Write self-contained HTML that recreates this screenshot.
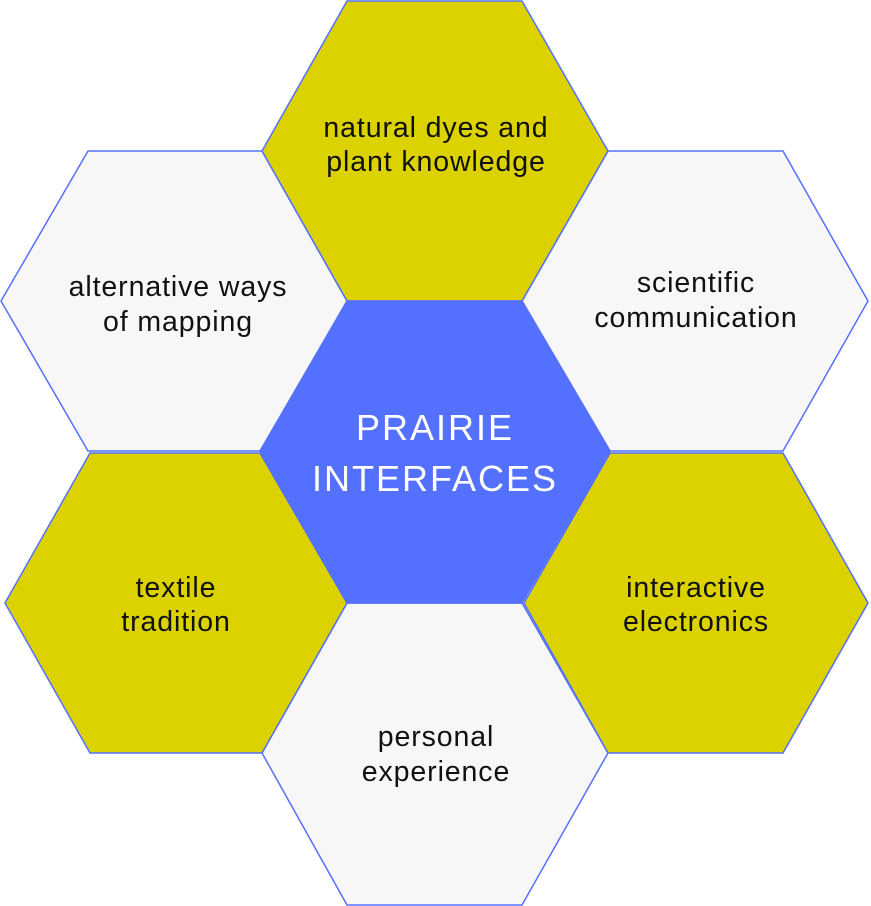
<!DOCTYPE html>
<html><head><style>
html,body{margin:0;padding:0;background:#fff;width:871px;height:906px;overflow:hidden}
svg{display:block}
text{font-family:"Liberation Sans",sans-serif;font-size:28.5px;letter-spacing:0.9px;fill:#111;text-anchor:middle}
</style></head><body>
<svg width="871" height="906" viewBox="0 0 871 906">
<g stroke="#5470ff" stroke-width="1.5">
<polygon fill="#f7f7f7" points="1,301 88,151 262,151 347,301 262,451 88,451"/>
<polygon fill="#f7f7f7" points="522,301 608,151 783,151 868,301 783,451 610,451"/>
<polygon fill="#f7f7f7" points="262,753 347,603 522,603 608,753 522,905 347,905"/>
<polygon fill="#dcd200" points="5,603 90,453 260,453 347,603 262,753 90,753"/>
<polygon fill="#dcd200" points="524,603 610,453 783,453 868,603 783,753 608,753"/>
<polygon fill="#dcd200" points="262,151 347,1 522,1 608,151 522,301 347,301"/>
<polygon fill="#5470ff" points="260,451 347,301 522,301 610,451 522,603 347,603"/>
</g>
<text x="436" y="137">natural dyes and</text>
<text x="436" y="171">plant knowledge</text>
<text x="178" y="296">alternative ways</text>
<text x="178" y="331">of mapping</text>
<text x="696" y="292">scientific</text>
<text x="696" y="327">communication</text>
<text x="176" y="597">textile</text>
<text x="176" y="631">tradition</text>
<text x="696" y="597">interactive</text>
<text x="696" y="631">electronics</text>
<text x="436" y="746">personal</text>
<text x="436" y="781">experience</text>
<text x="435" y="440" style="fill:#fff;font-size:36px;letter-spacing:2px">PRAIRIE</text>
<text x="435" y="491" style="fill:#fff;font-size:36px;letter-spacing:2px">INTERFACES</text>
</svg>
</body></html>
